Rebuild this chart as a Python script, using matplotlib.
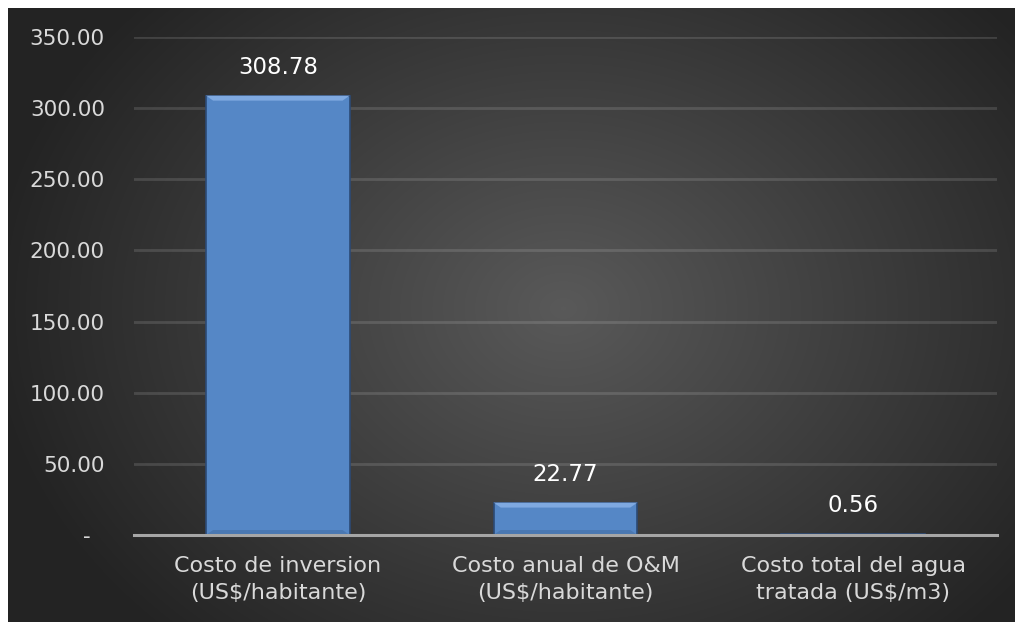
import numpy as np
import matplotlib.pyplot as plt
from matplotlib.patches import Polygon

categories = ["Costo de inversion\n(US$/habitante)",
              "Costo anual de O&M\n(US$/habitante)",
              "Costo total del agua\ntratada (US$/m3)"]
values = [308.78, 22.77, 0.56]
yticks = [0, 50, 100, 150, 200, 250, 300, 350]
ytick_labels = ["-  "] + ["%.2f" % t for t in yticks[1:]]

plt.rcParams['font.family'] = ['DejaVu Sans']

fig = plt.figure(figsize=(10.16, 6.22), dpi=100)
fig.patch.set_facecolor('white')

# radial gradient backdrop
bg = fig.add_axes([8 / 1016, 0, 1007 / 1016, 614 / 622])
bg.set_axis_off()
yy, xx = np.mgrid[0:614, 0:1007]
r = np.hypot((xx - 555) / 600, (yy - 300) / 470)
shade = np.clip(0.35 - 0.22 * r, 0.14, 0.35)
bg.imshow(np.dstack([shade] * 3), aspect='auto', interpolation='bilinear')

ax = fig.add_axes([134 / 1016, 1 - 535 / 622, 863 / 1016, 498 / 622])
ax.patch.set_alpha(0)
x = np.arange(len(values))
bars = ax.bar(x, values, width=0.5, color='#5587c6', edgecolor='#2c4a75',
              linewidth=1.2, zorder=3)

# bevel highlights on each bar
for b in bars:
    x0, w, h = b.get_x(), b.get_width(), b.get_height()
    dx, dy = 0.025, min(350 * 0.01, h * 0.3)
    ax.add_patch(Polygon([(x0, h), (x0 + w, h), (x0 + w - dx, h - dy), (x0 + dx, h - dy)],
                         closed=True, color='#7fa9e0', lw=0, zorder=4))
    ax.add_patch(Polygon([(x0, 0), (x0 + w, 0), (x0 + w - dx, dy), (x0 + dx, dy)],
                         closed=True, color='#4a78b2', lw=0, zorder=4))

for xi, v in zip(x, values):
    ax.text(xi, v + 12, "%.2f" % v, ha='center', va='bottom', color='white',
            fontsize=16.5, zorder=5)

ax.set_xlim(-0.5, 2.5)
ax.set_ylim(0, 350)
ax.set_yticks(yticks)
ax.set_yticklabels(ytick_labels)
ax.set_xticks(x)
ax.set_xticklabels(categories, linespacing=1.45, fontsize=16)
ax.tick_params(axis='both', length=0, colors='#d9d9d9')
ax.tick_params(axis='y', pad=21, labelsize=15.5)
ax.tick_params(axis='x', pad=15)
for lbl in ax.get_yticklabels():
    lbl.set_horizontalalignment('right')

ax.grid(axis='y', color='white', alpha=0.13, linewidth=2, zorder=0)
for s in ['top', 'right', 'left']:
    ax.spines[s].set_visible(False)
ax.spines['bottom'].set_color('#a6a6a6')
ax.spines['bottom'].set_linewidth(2.2)
ax.spines['bottom'].set_zorder(6)

fig.savefig('out.png', dpi=100, facecolor=fig.get_facecolor())
